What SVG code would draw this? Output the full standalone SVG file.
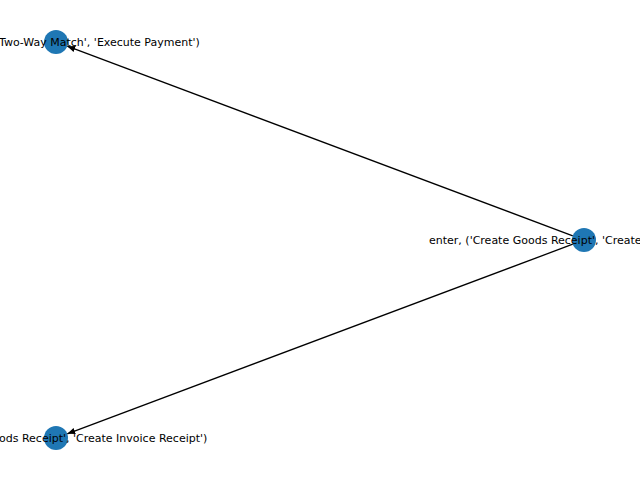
<svg xmlns="http://www.w3.org/2000/svg" width="640" height="480" viewBox="0 0 640 480">
<style>
.node{fill:#1f77b4}
.lbl{font-family:"DejaVu Sans",sans-serif;font-size:11px;fill:#000}
.edge{stroke:#000;stroke-width:1.3;fill:none}
</style>
<defs>
<marker id="arr" markerUnits="userSpaceOnUse" markerWidth="10" markerHeight="8" refX="8" refY="3.2" orient="auto">
<path d="M0,0 L8,3.2 L0,6.4 Z" fill="#000"/>
</marker>
</defs>
<rect width="640" height="480" fill="#fff"/>
<g id="edges">
<line class="edge" x1="572.8" y1="235.8" x2="67.2" y2="46.2" marker-end="url(#arr)"/>
<line class="edge" x1="572.8" y1="244.2" x2="67.2" y2="433.8" marker-end="url(#arr)"/>
</g>
<g id="node1">
<circle class="node" cx="56" cy="42" r="12"/>
<text class="lbl" x="-1" y="46">Two-Way Match', 'Execute Payment')</text>
</g>
<g id="node2">
<circle class="node" cx="584" cy="240" r="12"/>
<text class="lbl" x="429" y="244">enter, ('Create Goods Receipt', 'Create</text>
</g>
<g id="node3">
<circle class="node" cx="56" cy="438" r="12"/>
<text class="lbl" x="-1" y="442">ods Receipt', 'Create Invoice Receipt')</text>
</g>
</svg>
